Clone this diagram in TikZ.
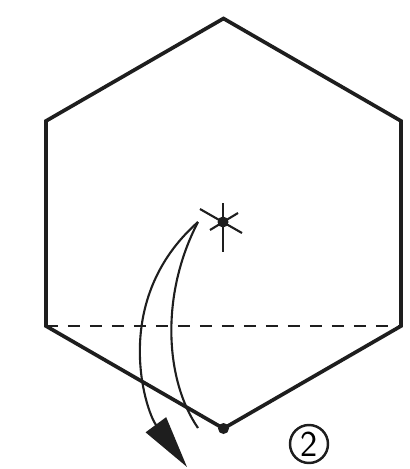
\documentclass[tikz,border=0pt]{standalone}
\usepackage{tikz}
\usetikzlibrary{arrows.meta,positioning}
\definecolor{ogink}{RGB}{30,30,30}
\tikzset{
  ogedge/.style={draw=ogink, line width=2.1pt, line join=miter},
  ogvalley/.style={draw=ogink, line width=1pt, dash pattern=on 0.24cm off 0.2cm},
  ogray/.style={draw=ogink, line width=1.2pt},
  ogdot/.style={circle, fill=ogink, inner sep=0pt, minimum size=0.22cm},
  ogmove/.style={draw=ogink, line width=1.2pt},
  ogarr/.style={-{Triangle[length=1.05cm,width=0.5cm]}, draw=ogink, line width=1.2pt},
  ogstep/.style={circle, draw=ogink, line width=1.4pt, minimum size=0.76cm, inner sep=0pt, font=\sffamily\huge}
}

\begin{document}
\begin{tikzpicture}
  \useasboundingbox (0,0) rectangle (8.2,-9.38);
  % hexagon corners
  \coordinate (c) at (4.47,-4.47);
  \foreach \a/\n in {90/t,150/ul,210/ll,270/b,330/lr,30/ur}
    \coordinate (\n) at ([shift={(\a:4.1)}]c);
  \draw[ogedge] (t) -- (ul) -- (ll) -- (b) -- (lr) -- (ur) -- cycle;
  \draw[ogvalley] (ll) -- (lr);
  % pivot mark
  \node[ogdot] (pin) at (4.46,-4.44) {};
  \draw[ogray] ([shift={(0,0.38)}]pin.center) -- ([shift={(0,-0.6)}]pin.center);
  \draw[ogray] ([shift={(-0.46,0.26)}]pin.center) -- ([shift={(0.38,-0.22)}]pin.center);
  \draw[ogray] ([shift={(-0.26,-0.16)}]pin.center) -- ([shift={(0.3,0.18)}]pin.center);
  \node[ogdot] (corner) at (b) {};
  % fold movement
  \coordinate (src) at (3.96,-4.44);
  \coordinate (land) at (3.74,-9.34);
  \coordinate (rim) at (3.96,-8.56);
  \draw[ogarr] (src) .. controls (2.2,-6.0) and (2.9,-8.2) .. (land);
  \draw[ogmove] (src) .. controls (3.2,-5.9) and (3.3,-7.6) .. (rim);
  \node[ogstep] (num) at (6.18,-8.88) {2};
\end{tikzpicture}
\end{document}
